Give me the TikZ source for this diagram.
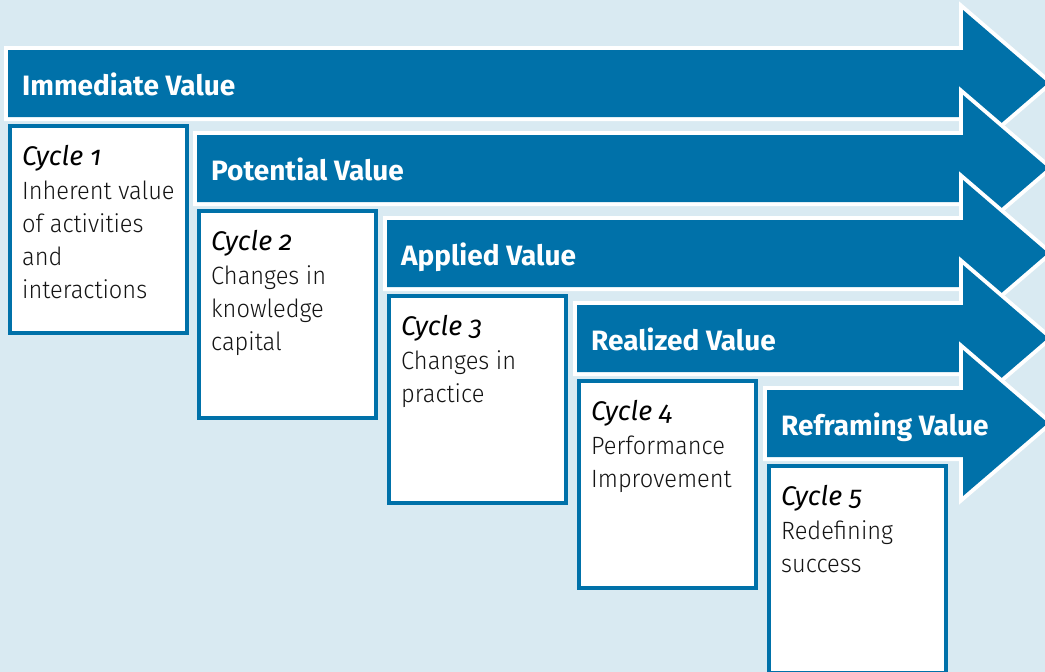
\documentclass[tikz,border=0pt]{standalone}
\usepackage{fontspec}
\setmainfont{Fira Sans}
\newfontfamily\headfam{Fira Sans}[Numbers=OldStyle]
\newfontfamily\bodyfam{Fira Sans Light}[Numbers=OldStyle,FakeStretch=0.945]
\definecolor{vblue}{HTML}{0071A9}
\definecolor{bgblue}{HTML}{D9EAF2}
\tikzset{
  arrowshape/.style={fill=vblue, preaction={draw=white, line width=8pt, line join=miter}},
  cyclebox/.style={draw=vblue, line width=4pt, fill=white},
  headtext/.style={font=\headfam\bfseries\fontsize{28}{33}\selectfont, text=white, anchor=base west, inner sep=0pt},
  ctitle/.style={font=\headfam\itshape\fontsize{27}{33}\selectfont, text=black, anchor=base west, inner sep=0pt},
  cline/.style={font=\bodyfam\fontsize{25}{33}\selectfont, text=black!92, anchor=base west, inner sep=0pt}
}
\begin{document}
\begin{tikzpicture}[x=1pt,y=-1pt]
\fill[bgblue] (0,0) rectangle (1045,672);
\useasboundingbox (0,0) rectangle (1045,672);
% arrows and boxes
\foreach \i/\L/\T/\lab in {1/8/50/Immediate Value,2/197/135/Potential Value,3/387/220/Applied Value,4/577/305/Realized Value,5/767/390/Reframing Value}{
  \path[arrowshape] (\L,\T) -- (963,\T) -- (963,\T-40) -- (1048,\T+33) -- (963,\T+106) -- (963,\T+67) -- (\L,\T+67) -- cycle;
  \node[headtext] (h\i) at (\L+14,\T+45) {\lab};
  \path[cyclebox] (\L+2,\T+76) rectangle (\L+179,\T+283);
}
% box texts
\node[ctitle] (c1) at (22,165) {Cycle 1};
\node[cline] (c1a) at (22,199) {Inherent value};
\node[cline] (c1b) at (22,232) {of activities};
\node[cline] (c1c) at (22,265) {and};
\node[cline] (c1d) at (22,298) {interactions};
\node[ctitle] (c2) at (211,250) {Cycle 2};
\node[cline] (c2a) at (211,284) {Changes in};
\node[cline] (c2b) at (211,317) {knowledge};
\node[cline] (c2c) at (211,350) {capital};
\node[ctitle] (c3) at (401,335) {Cycle 3};
\node[cline] (c3a) at (401,369) {Changes in};
\node[cline] (c3b) at (401,402) {practice};
\node[ctitle] (c4) at (591,420) {Cycle 4};
\node[cline] (c4a) at (591,454) {Performance};
\node[cline] (c4b) at (591,487) {Improvement};
\node[ctitle] (c5) at (781,505) {Cycle 5};
\node[cline] (c5a) at (781,539) {Redefining};
\node[cline] (c5b) at (781,572) {success};
\end{tikzpicture}
\end{document}
